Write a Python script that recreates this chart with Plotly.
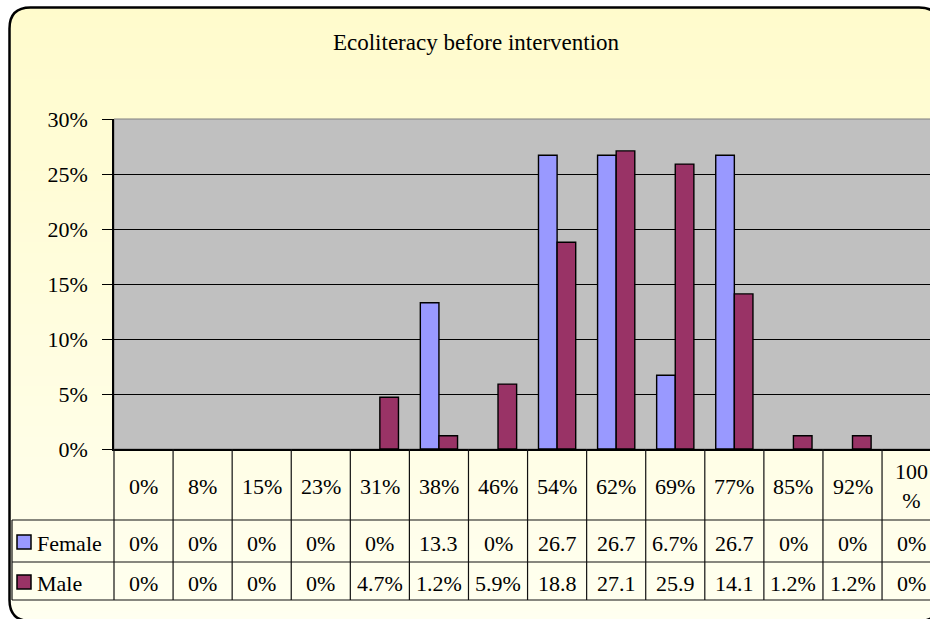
import plotly.graph_objects as go

# ---------------- data ----------------
score_labels = ["0%", "8%", "15%", "23%", "31%", "38%", "46%", "54%",
                "62%", "69%", "77%", "85%", "92%", "100%"]
female = [0, 0, 0, 0, 0, 13.3, 0, 26.7, 26.7, 6.7, 26.7, 0, 0, 0]
male = [0, 0, 0, 0, 4.7, 1.2, 5.9, 18.8, 27.1, 25.9, 14.1, 1.2, 1.2, 0]
y_ticks = [0, 5, 10, 15, 20, 25, 30]
series_names = ["Female", "Male"]
title_text = "Ecoliteracy before intervention"

# ---------------- layout constants ----------------
W, H = 930, 619
L, R, T, B = 114, 0, 119, 170
PW = W - L - R
PH = H - T - B
COLW = 59.08
FONT = "Liberation Serif, Times New Roman, serif"
FS = 22
COLORS = ["#9999FF", "#993366"]


def X(px):
    return (px - L) / PW


def Y(py):
    return (H - B - py) / PH


def cell_text(v):
    if v == 0:
        return "0%"
    s = f"{v:.1f}"
    return s if len(s) >= 4 else s + "%"


def header_text(s):
    return s if len(s) <= 3 else s[:-1] + "<br>%"


fig = go.Figure()
for name, vals, col in zip(series_names, [female, male], COLORS):
    fig.add_trace(go.Bar(
        x=score_labels, y=[v if v else None for v in vals], name=name,
        marker=dict(color=col, line=dict(color="black", width=1.4)),
        showlegend=False, hoverinfo="x+y+name"))

shapes = []
# gradient background inside frame
FL, FT, FR, FB, RAD = 9.5, 7.5, 940, 621, 21
top_c = (255, 251, 204)
bot_c = (255, 255, 240)
NB = 60
for k in range(NB):
    y0 = FT + (FB - FT) * k / NB
    y1 = FT + (FB - FT) * (k + 1) / NB + 1
    t = (k + 0.5) / NB
    c = tuple(round(a + (b - a) * t) for a, b in zip(top_c, bot_c))
    shapes.append(dict(type="rect", xref="paper", yref="paper", layer="below",
                       x0=X(FL), x1=X(FR), y0=Y(y1), y1=Y(y0),
                       fillcolor="rgb(%d,%d,%d)" % c, line=dict(width=0)))


def P(px, py):
    return f"{X(px):.5f},{Y(py):.5f}"


# white corner masks
shapes.append(dict(type="path", xref="paper", yref="paper", layer="below",
                   path=f"M{P(0,0)} L{P(FL+RAD,0)} L{P(FL+RAD,FT)} Q{P(FL,FT)} {P(FL,FT+RAD)} L{P(0,FT+RAD)} Z",
                   fillcolor="white", line=dict(width=0)))
shapes.append(dict(type="path", xref="paper", yref="paper", layer="below",
                   path=f"M{P(0,H+5)} L{P(FL+RAD,H+5)} L{P(FL+RAD,FB)} Q{P(FL,FB)} {P(FL,FB-RAD)} L{P(0,FB-RAD)} Z",
                   fillcolor="white", line=dict(width=0)))
shapes.append(dict(type="path", xref="paper", yref="paper", layer="below",
                   path=f"M{P(FR-RAD,0)} L{P(W+20,0)} L{P(W+20,FT+RAD)} L{P(FR,FT+RAD)} Q{P(FR,FT)} {P(FR-RAD,FT)} Z",
                   fillcolor="white", line=dict(width=0)))
# frame border
shapes.append(dict(type="path", xref="paper", yref="paper", layer="below",
                   path=(f"M{P(FL,FT+RAD)} Q{P(FL,FT)} {P(FL+RAD,FT)} L{P(FR-RAD,FT)} "
                         f"Q{P(FR,FT)} {P(FR,FT+RAD)} L{P(FR,FB-RAD)} Q{P(FR,FB)} {P(FR-RAD,FB)} "
                         f"L{P(FL+RAD,FB)} Q{P(FL,FB)} {P(FL,FB-RAD)} Z"),
                   line=dict(color="black", width=2.5)))
# gray plot area
shapes.append(dict(type="rect", xref="paper", yref="paper", layer="below",
                   x0=0, x1=1.05, y0=0, y1=1, fillcolor="#C0C0C0",
                   line=dict(color="#808080", width=1)))

# table lines
TL = "#111111"
for py in [520, 562, 600]:
    shapes.append(dict(type="line", xref="paper", yref="paper", layer="above",
                       x0=X(12), x1=1.05, y0=Y(py), y1=Y(py),
                       line=dict(color=TL, width=1.2)))
shapes.append(dict(type="line", xref="paper", yref="paper", layer="above",
                   x0=X(12), x1=X(12), y0=Y(520), y1=Y(600),
                   line=dict(color=TL, width=1.2)))
shapes.append(dict(type="line", xref="paper", yref="paper", layer="above",
                   x0=0, x1=0, y0=Y(449), y1=Y(600),
                   line=dict(color=TL, width=1.2)))
for i in range(1, len(score_labels)):
    shapes.append(dict(type="line", xref="x", yref="paper", layer="above",
                       x0=i - 0.5, x1=i - 0.5, y0=Y(449), y1=Y(600),
                       line=dict(color=TL, width=1.2)))

# legend squares
for name, col, cy in zip(series_names, COLORS, [542, 582]):
    shapes.append(dict(type="rect", xref="paper", yref="paper", layer="above",
                       x0=X(17), x1=X(31), y0=Y(cy + 7), y1=Y(cy - 7),
                       fillcolor=col, line=dict(color="black", width=1.5)))

annotations = []
tf = dict(family=FONT, size=FS, color="black")
for i, lab in enumerate(score_labels):
    annotations.append(dict(xref="x", yref="paper", x=i, y=Y(486), text=header_text(lab),
                            showarrow=False, xanchor="center", yanchor="middle", font=tf))
    annotations.append(dict(xref="x", yref="paper", x=i, y=Y(543), text=cell_text(female[i]),
                            showarrow=False, xanchor="center", yanchor="middle", font=tf))
    annotations.append(dict(xref="x", yref="paper", x=i, y=Y(583), text=cell_text(male[i]),
                            showarrow=False, xanchor="center", yanchor="middle", font=tf))
for name, cy in zip(series_names, [543, 583]):
    annotations.append(dict(xref="paper", yref="paper", x=X(35), y=Y(cy), text=name,
                            showarrow=False, xanchor="left", yanchor="middle", font=tf))

fig.update_layout(
    width=W, height=H, autosize=False,
    margin=dict(l=L, r=R, t=T, b=B, pad=0),
    paper_bgcolor="white", plot_bgcolor="rgba(0,0,0,0)",
    barmode="group", bargap=0.37, bargroupgap=0,
    title=dict(text=title_text, xref="container", yref="container",
               x=476 / W, y=1 - 42 / H, xanchor="center", yanchor="middle",
               font=dict(family=FONT, size=23, color="black")),
    xaxis=dict(range=[-0.5, -0.5 + PW / COLW], showticklabels=False, ticks="",
               showgrid=False, zeroline=False, showline=True,
               linecolor="black", linewidth=1.5, fixedrange=True),
    yaxis=dict(range=[0, 30], tickvals=y_ticks, ticktext=[f"{v}%" for v in y_ticks],
               ticks="outside", ticklen=10, tickcolor="black", tickwidth=1,
               ticklabelstandoff=10,
               showgrid=True, gridcolor="black", gridwidth=1, zeroline=False,
               showline=True, linecolor="black", linewidth=1.5,
               tickfont=dict(family=FONT, size=FS, color="black"), fixedrange=True),
    shapes=shapes, annotations=annotations,
)

fig.write_html("out.html")
